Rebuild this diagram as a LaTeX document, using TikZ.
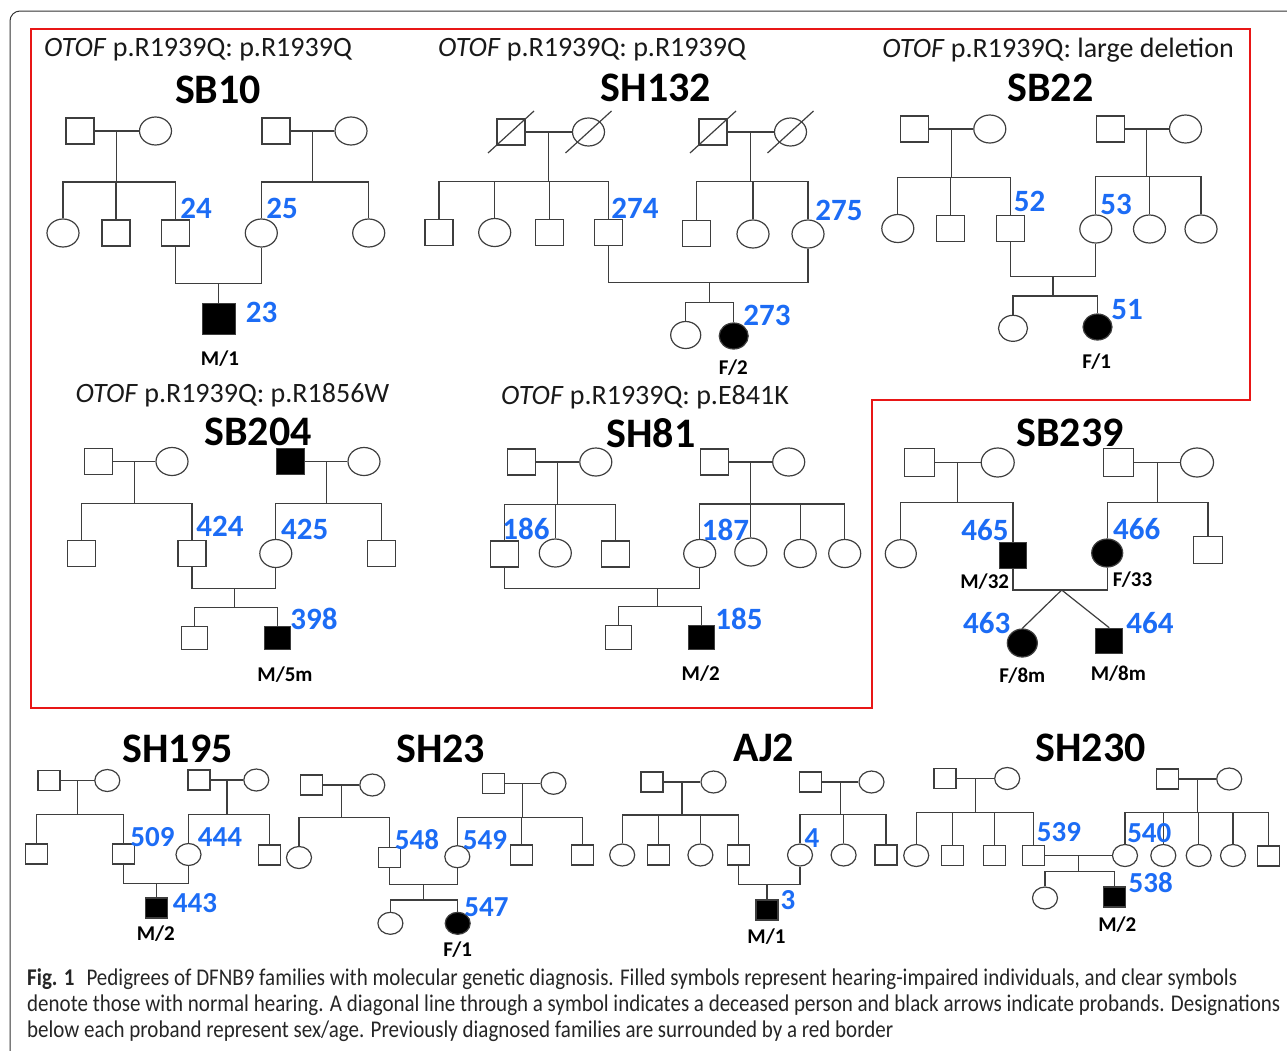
\documentclass[tikz,border=0pt]{standalone}
\usepackage{fontspec}
\setmainfont{Carlito}
\newfontfamily\capfont[FakeStretch=0.875]{Carlito}
\definecolor{idblue}{RGB}{28,108,245}
\definecolor{framered}{RGB}{232,22,22}
\definecolor{linegray}{RGB}{62,62,62}
\usetikzlibrary{shapes.geometric, calc}

\begin{document}
\begin{tikzpicture}[
    x=1pt, y=-1pt,
    every node/.append style={inner sep=0pt},
  ]

  \tikzset{
    ped/.style={draw=linegray, line width=1.2pt},
    male/.style={ped, rectangle, minimum width=28pt, minimum height=26pt},
    female/.style={ped, ellipse, minimum width=32pt, minimum height=28pt},
    smale/.style={male, minimum width=22pt, minimum height=20pt},
    sfemale/.style={female, minimum width=25pt, minimum height=22pt},
    aff/.style={fill=black},
    idnum/.style={font=\fontsize{31}{31}\selectfont\bfseries, text=idblue},
    sidnum/.style={font=\fontsize{29}{29}\selectfont\bfseries, text=idblue},
    agelabel/.style={font=\fontsize{21}{21}\selectfont\bfseries},
    famtitle/.style={font=\fontsize{42}{42}\selectfont\bfseries},
    genehead/.style={font=\fontsize{28}{28}\selectfont, text=black!90},
    captext/.style={font=\capfont\fontsize{24}{26}\selectfont, text=black!85, anchor=base west},
  }

  \useasboundingbox (0,0) rectangle (1287,1050);

  %% ---------------- FRAMES ----------------
  \begin{scope}
    \clip (0,0) rectangle (1287,1050);
    \draw[black!80, line width=1pt, rounded corners=10pt] (10,11) rectangle (1310,1070);
  \end{scope}
  \draw[framered, line width=2pt] (31,29) -- (1250,29) -- (1250,400) -- (872,400)
    -- (872,708) -- (31,708) -- cycle;

  %% ---------------- SB10 ----------------
  \node[genehead] (geneSB10) at (198,50) {\textit{OTOF} p.R1939Q: p.R1939Q};
  \node[famtitle] (titleSB10) at (218,90) {SB10};
  % generation I
  \node[male] (sb10f1) at (80,131) {};
  \node[female] (sb10m1) at (155.5,131) {};
  \node[male] (sb10f2) at (276,131) {};
  \node[female] (sb10m2) at (351,131) {};
  % generation II
  \node[female] (sb10a) at (63,233) {};
  \node[male] (sb10b) at (116,233) {};
  \node[male] (sb10c) at (175.5,233) {};
  \node[female] (sb10d) at (261.3,233) {};
  \node[female] (sb10e) at (368.7,233) {};
  % proband
  \node[male, aff, minimum width=33pt, minimum height=31pt] (sb10p) at (219,319) {};
  \node[idnum] (id24) at (196,208) {24};
  \node[idnum] (id25) at (282,208) {25};
  \node[idnum] (id23) at (261.7,312) {23};
  \node[agelabel] (age23) at (220,359) {M/1};
  % lines
  \draw[ped] (sb10f1) -- (sb10m1);
  \draw[ped] (sb10f2) -- (sb10m2);
  \coordinate (sb10u1) at ($(sb10f1.east)!.5!(sb10m1.west)$);
  \coordinate (sb10s1) at (sb10u1 |- 0,182);
  \coordinate (sb10u2) at ($(sb10f2.east)!.5!(sb10m2.west)$);
  \coordinate (sb10s2) at (sb10u2 |- 0,182);
  \draw[ped] (sb10u1) -- (sb10s1);
  \draw[ped] (sb10a.north) |- (sb10c.north |- sb10s1) -- (sb10c.north);
  \draw[ped] (sb10b.north) -- (sb10b.north |- sb10s1);
  \draw[ped] (sb10u2) -- (sb10s2);
  \draw[ped] (sb10d.north) |- (sb10e.north |- sb10s2) -- (sb10e.north);
  \coordinate (sb10c1) at (218.4,283.3);
  \draw[ped] (sb10c.south) |- (sb10d.south |- sb10c1) -- (sb10d.south);
  \draw[ped] (sb10c1) -- (sb10c1 |- sb10p.north);

  %% ---------------- SH132 ----------------
  \node[genehead] (geneSH132) at (592,50) {\textit{OTOF} p.R1939Q: p.R1939Q};
  \node[famtitle] (titleSH132) at (656,88) {SH132};
  % generation I (deceased)
  \node[male] (sh132f1) at (511,132) {};
  \node[female] (sh132m1) at (588.5,132) {};
  \node[male] (sh132f2) at (713,132) {};
  \node[female] (sh132m2) at (790.5,132) {};
  \draw[ped] ($(sh132f1)+(-23,21)$) -- ($(sh132f1)+(23,-21)$);
  \draw[ped] ($(sh132m1)+(-23,21)$) -- ($(sh132m1)+(23,-21)$);
  \draw[ped] ($(sh132f2)+(-23,21)$) -- ($(sh132f2)+(23,-21)$);
  \draw[ped] ($(sh132m2)+(-23,21)$) -- ($(sh132m2)+(23,-21)$);
  % generation II
  \node[male] (sh132a) at (439,232.5) {};
  \node[female] (sh132b) at (494.7,232.5) {};
  \node[male] (sh132c) at (549.2,232.5) {};
  \node[male] (sh132d) at (608.3,232.5) {};
  \node[male] (sh132e) at (696.3,233.5) {};
  \node[female] (sh132g) at (753,234) {};
  \node[female] (sh132h) at (808,234) {};
  % generation III
  \node[female, minimum width=30pt, minimum height=27pt] (sh132i) at (685.7,335) {};
  \node[female, aff, minimum width=29pt, minimum height=26pt] (sh132p) at (733.7,336) {};
  \node[idnum] (id274) at (635,208) {274};
  \node[idnum] (id275) at (839,210) {275};
  \node[idnum] (id273) at (767,315) {273};
  \node[agelabel] (age273) at (733.3,368) {F/2};
  % lines
  \draw[ped] (sh132f1) -- (sh132m1);
  \draw[ped] (sh132f2) -- (sh132m2);
  \coordinate (sh132u1) at ($(sh132f1.east)!.5!(sh132m1.west)$);
  \coordinate (sh132s1) at (sh132u1 |- 0,181.7);
  \coordinate (sh132u2) at ($(sh132f2.east)!.5!(sh132m2.west)$);
  \coordinate (sh132s2) at (sh132u2 |- 0,181.7);
  \draw[ped] (sh132u1) -- (sh132s1);
  \draw[ped] (sh132a.north) |- (sh132d.north |- sh132s1) -- (sh132d.north);
  \draw[ped] (sh132b.north) -- (sh132b.north |- sh132s1);
  \draw[ped] (sh132c.north) -- (sh132c.north |- sh132s1);
  \draw[ped] (sh132u2) -- (sh132s2);
  \draw[ped] (sh132e.north) |- (sh132h.north |- sh132s2) -- (sh132h.north);
  \draw[ped] (sh132g.north) -- (sh132g.north |- sh132s2);
  \coordinate (sh132c1) at (709.3,282.7);
  \coordinate (sh132s3) at (sh132c1 |- 0,302.3);
  \draw[ped] (sh132d.south) |- (sh132h.south |- sh132c1) -- (sh132h.south);
  \draw[ped] (sh132c1) -- (sh132s3);
  \draw[ped] (sh132i.north) |- (sh132p.north |- sh132s3) -- (sh132p.north);

  %% ---------------- SB22 ----------------
  \node[genehead] (geneSB22) at (1058,50) {\textit{OTOF} p.R1939Q: large deletion};
  \node[famtitle] (titleSB22) at (1050.5,88) {SB22};
  % generation I
  \node[male] (sb22f1) at (914.5,129) {};
  \node[female] (sb22m1) at (989.8,129) {};
  \node[male] (sb22f2) at (1110.2,129) {};
  \node[female] (sb22m2) at (1185.5,129) {};
  % generation II
  \node[female] (sb22a) at (897.8,228.5) {};
  \node[male] (sb22b) at (950.5,228.5) {};
  \node[male] (sb22c) at (1010.5,228.5) {};
  \node[female] (sb22d) at (1095.8,229) {};
  \node[female] (sb22e) at (1149.5,229) {};
  \node[female] (sb22g) at (1201,229) {};
  % generation III
  \node[female, minimum width=29pt, minimum height=26pt] (sb22i) at (1013,328.3) {};
  \node[female, aff, minimum width=29pt, minimum height=26pt] (sb22p) at (1097.5,327) {};
  \node[idnum] (id52) at (1029.5,201.7) {52};
  \node[idnum] (id53) at (1116,204) {53};
  \node[idnum] (id51) at (1127,310) {51};
  \node[agelabel] (age51) at (1096.7,361.7) {F/1};
  % lines
  \draw[ped] (sb22f1) -- (sb22m1);
  \draw[ped] (sb22f2) -- (sb22m2);
  \coordinate (sb22u1) at ($(sb22f1.east)!.5!(sb22m1.west)$);
  \coordinate (sb22s1) at (sb22u1 |- 0,177.7);
  \coordinate (sb22u2) at ($(sb22f2.east)!.5!(sb22m2.west)$);
  \coordinate (sb22s2) at (sb22u2 |- 0,176.7);
  \draw[ped] (sb22u1) -- (sb22s1);
  \draw[ped] (sb22a.north) |- (sb22c.north |- sb22s1) -- (sb22c.north);
  \draw[ped] (sb22b.north) -- (sb22b.north |- sb22s1);
  \draw[ped] (sb22u2) -- (sb22s2);
  \draw[ped] (sb22d.north) |- (sb22g.north |- sb22s2) -- (sb22g.north);
  \draw[ped] (sb22e.north) -- (sb22e.north |- sb22s2);
  \coordinate (sb22c1) at (1053,276.7);
  \coordinate (sb22s3) at (sb22c1 |- 0,296);
  \draw[ped] (sb22c.south) |- (sb22d.south |- sb22c1) -- (sb22d.south);
  \draw[ped] (sb22c1) -- (sb22s3);
  \draw[ped] (sb22i.north) |- (sb22p.north |- sb22s3) -- (sb22p.north);

  %% ---------------- SB204 ----------------
  \node[genehead] (geneSB204) at (232.5,395) {\textit{OTOF} p.R1939Q: p.R1856W};
  \node[famtitle] (titleSB204) at (258,432) {SB204};
  % generation I
  \node[male] (sb204f1) at (98.2,461.5) {};
  \node[female] (sb204m1) at (172,461.5) {};
  \node[male, aff] (sb204f2) at (290.3,461.5) {};
  \node[female] (sb204m2) at (364,461.5) {};
  % generation II
  \node[male] (sb204a) at (81.7,553.5) {};
  \node[male] (sb204b) at (192,553.5) {};
  \node[female] (sb204c) at (275.8,553.5) {};
  \node[male] (sb204d) at (381.2,553.5) {};
  % generation III
  \node[male, minimum width=26pt, minimum height=23pt] (sb204i) at (194.5,638) {};
  \node[male, aff, minimum width=26pt, minimum height=23pt] (sb204p) at (277.2,638) {};
  \node[idnum] (id424) at (220,526.7) {424};
  \node[idnum] (id425) at (304.7,529) {425};
  \node[idnum] (id398) at (314,619.3) {398};
  \node[agelabel] (age398) at (285,675) {M/5m};
  % lines
  \draw[ped] (sb204f1) -- (sb204m1);
  \draw[ped] (sb204f2) -- (sb204m2);
  \coordinate (sb204u1) at ($(sb204f1.east)!.5!(sb204m1.west)$);
  \coordinate (sb204s1) at (sb204u1 |- 0,503.3);
  \coordinate (sb204u2) at ($(sb204f2.east)!.5!(sb204m2.west)$);
  \coordinate (sb204s2) at (sb204u2 |- 0,503.3);
  \draw[ped] (sb204u1) -- (sb204s1);
  \draw[ped] (sb204a.north) |- (sb204b.north |- sb204s1) -- (sb204b.north);
  \draw[ped] (sb204u2) -- (sb204s2);
  \draw[ped] (sb204c.north) |- (sb204d.north |- sb204s2) -- (sb204d.north);
  \coordinate (sb204c1) at (234.3,588.3);
  \coordinate (sb204s3) at (sb204c1 |- 0,607.7);
  \draw[ped] (sb204b.south) |- (sb204c.south |- sb204c1) -- (sb204c.south);
  \draw[ped] (sb204c1) -- (sb204s3);
  \draw[ped] (sb204i.north) |- (sb204p.north |- sb204s3) -- (sb204p.north);

  %% ---------------- SH81 ----------------
  \node[genehead] (geneSH81) at (645,397) {\textit{OTOF} p.R1939Q: p.E841K};
  \node[famtitle] (titleSH81) at (651,433) {SH81};
  % generation I
  \node[male] (sh81f1) at (521.2,462) {};
  \node[female] (sh81m1) at (595.8,462) {};
  \node[male] (sh81f2) at (714.7,462) {};
  \node[female] (sh81m2) at (788.7,462) {};
  % generation II
  \node[male] (sh81a) at (504.2,554) {};
  \node[female] (sh81b) at (555.3,553) {};
  \node[male] (sh81c) at (615.8,554) {};
  \node[female] (sh81d) at (699.7,553.5) {};
  \node[female] (sh81e) at (750.8,552) {};
  \node[female] (sh81g) at (800.2,553.5) {};
  \node[female] (sh81h) at (844.7,553.5) {};
  % generation III
  \node[male, minimum width=26pt, minimum height=24pt] (sh81i) at (618.8,637.5) {};
  \node[male, aff, minimum width=26pt, minimum height=24pt] (sh81p) at (701.3,637.5) {};
  % lines
  \draw[ped] (sh81f1) -- (sh81m1);
  \draw[ped] (sh81f2) -- (sh81m2);
  \coordinate (sh81u1) at ($(sh81f1.east)!.5!(sh81m1.west)$);
  \coordinate (sh81s1) at (sh81u1 |- 0,504.3);
  \coordinate (sh81u2) at ($(sh81f2.east)!.5!(sh81m2.west)$);
  \coordinate (sh81s2) at (sh81u2 |- 0,504);
  \draw[ped] (sh81u1) -- (sh81s1);
  \draw[ped] (sh81a.north) |- (sh81c.north |- sh81s1) -- (sh81c.north);
  \draw[ped] (sh81b.north) -- (sh81b.north |- sh81s1);
  \draw[ped] (sh81u2) -- (sh81s2);
  \draw[ped] (sh81d.north) |- (sh81h.north |- sh81s2) -- (sh81h.north);
  \draw[ped] (sh81e.north) -- (sh81e.north |- sh81s2);
  \draw[ped] (sh81g.north) -- (sh81g.north |- sh81s2);
  \coordinate (sh81c1) at (657.7,588.3);
  \coordinate (sh81s3) at (sh81c1 |- 0,606.7);
  \draw[ped] (sh81a.south) |- (sh81d.south |- sh81c1) -- (sh81d.south);
  \draw[ped] (sh81c1) -- (sh81s3);
  \draw[ped] (sh81i.north) |- (sh81p.north |- sh81s3) -- (sh81p.north);
  % labels drawn over the lines
  \node[idnum] (id186) at (526,529) {186};
  \node[idnum] (id187) at (725.5,530) {187};
  \node[idnum] (id185) at (739,619.3) {185};
  \node[agelabel] (age185) at (700.7,673.3) {M/2};

  %% ---------------- SB239 ----------------
  \node[famtitle] (titleSB239) at (1070,432.7) {SB239};
  % generation I
  \node[male, minimum width=30pt, minimum height=28pt] (sb239f1) at (919.2,462.5) {};
  \node[female, minimum width=33pt, minimum height=29pt] (sb239m1) at (997.7,462.5) {};
  \node[male, minimum width=30pt, minimum height=28pt] (sb239f2) at (1118.8,462.5) {};
  \node[female, minimum width=33pt, minimum height=29pt] (sb239m2) at (1197,462.5) {};
  % generation II
  \node[female, minimum width=31pt, minimum height=28pt] (sb239a) at (900.8,553.7) {};
  \node[male, aff, minimum width=27pt, minimum height=26pt] (sb239b) at (1013,555.5) {};
  \node[female, aff, minimum width=31pt, minimum height=28pt] (sb239c) at (1107.2,553) {};
  \node[male, minimum width=29pt, minimum height=27pt] (sb239d) at (1208,550) {};
  % twins
  \node[female, aff, minimum width=30pt, minimum height=28pt] (sb239p1) at (1022.3,643) {};
  \node[male, aff, minimum width=27pt, minimum height=25pt] (sb239p2) at (1109.2,640.8) {};
  \node[idnum] (id465) at (985,530) {465};
  \node[idnum] (id466) at (1136.7,529.3) {466};
  \node[idnum] (id463) at (986.7,623.3) {463};
  \node[idnum] (id464) at (1150,623.3) {464};
  \node[agelabel] (age465) at (984.7,581.7) {M/32};
  \node[agelabel] (age466) at (1132.5,580) {F/33};
  \node[agelabel] (age463) at (1022.3,676) {F/8m};
  \node[agelabel] (age464) at (1118.3,673.3) {M/8m};
  % lines
  \draw[ped] (sb239f1) -- (sb239m1);
  \draw[ped] (sb239f2) -- (sb239m2);
  \coordinate (sb239u1) at ($(sb239f1.east)!.5!(sb239m1.west)$);
  \coordinate (sb239s1) at (sb239u1 |- 0,502.7);
  \coordinate (sb239u2) at ($(sb239f2.east)!.5!(sb239m2.west)$);
  \coordinate (sb239s2) at (sb239u2 |- 0,502.3);
  \draw[ped] (sb239u1) -- (sb239s1);
  \draw[ped] (sb239a.north) |- (sb239b.north |- sb239s1) -- (sb239b.north);
  \draw[ped] (sb239u2) -- (sb239s2);
  \draw[ped] (sb239c.north) |- (sb239d.north |- sb239s2) -- (sb239d.north);
  \coordinate (sb239t) at (1061.7,590);
  \draw[ped] (sb239b.south) |- (sb239c.south |- sb239t) -- (sb239c.south);
  \draw[ped] (sb239t) -- (sb239p1.north);
  \draw[ped] (sb239t) -- (sb239p2.north);

  %% ---------------- SH195 ----------------
  \node[famtitle] (titleSH195) at (177.5,749) {SH195};
  \node[smale] (sh195f1) at (49,780.5) {};
  \node[sfemale] (sh195m1) at (107.3,780.5) {};
  \node[smale] (sh195f2) at (199,780) {};
  \node[sfemale] (sh195m2) at (256.3,780) {};
  \node[smale] (sh195a) at (36.2,854) {};
  \node[smale] (sh195b) at (123.7,854) {};
  \node[sfemale] (sh195c) at (188.5,854.5) {};
  \node[smale] (sh195d) at (269.6,855) {};
  \node[smale, aff] (sh195p) at (156.2,908) {};
  \node[sidnum] (id509) at (152.5,836.7) {509};
  \node[sidnum] (id444) at (220,836.7) {444};
  \node[sidnum] (id443) at (195,903.3) {443};
  \node[agelabel] (age443) at (155.8,933.3) {M/2};
  \draw[ped] (sh195f1) -- (sh195m1);
  \draw[ped] (sh195f2) -- (sh195m2);
  \coordinate (sh195u1) at ($(sh195f1.east)!.5!(sh195m1.west)$);
  \coordinate (sh195s1) at (sh195u1 |- 0,814.3);
  \coordinate (sh195u2) at ($(sh195f2.east)!.5!(sh195m2.west)$);
  \coordinate (sh195s2) at (sh195u2 |- 0,814.3);
  \draw[ped] (sh195u1) -- (sh195s1);
  \draw[ped] (sh195a.north) |- (sh195b.north |- sh195s1) -- (sh195b.north);
  \draw[ped] (sh195u2) -- (sh195s2);
  \draw[ped] (sh195c.north) |- (sh195d.north |- sh195s2) -- (sh195d.north);
  \coordinate (sh195c1) at (156.1,883.3);
  \draw[ped] (sh195b.south) |- (sh195c.south |- sh195c1) -- (sh195c.south);
  \draw[ped] (sh195c1) -- (sh195c1 |- sh195p.north);

  %% ---------------- SH23 ----------------
  \node[famtitle] (titleSH23) at (440.7,749) {SH23};
  \node[smale] (sh23f1) at (311.7,785) {};
  \node[sfemale] (sh23m1) at (372.3,785) {};
  \node[smale] (sh23f2) at (493.3,783.3) {};
  \node[sfemale] (sh23m2) at (553.5,783.3) {};
  \node[sfemale] (sh23a) at (299,857.5) {};
  \node[smale] (sh23b) at (389.4,857.5) {};
  \node[sfemale] (sh23c) at (457.3,856.7) {};
  \node[smale] (sh23d) at (521.5,855) {};
  \node[smale] (sh23e) at (582.3,855) {};
  \node[sfemale] (sh23i) at (390.4,923.3) {};
  \node[sfemale, aff] (sh23p) at (457.7,923.3) {};
  \node[sidnum] (id548) at (417,840) {548};
  \node[sidnum] (id549) at (485,840) {549};
  \node[sidnum] (id547) at (486.5,906.7) {547};
  \node[agelabel] (age547) at (457.7,950) {F/1};
  \draw[ped] (sh23f1) -- (sh23m1);
  \draw[ped] (sh23f2) -- (sh23m2);
  \coordinate (sh23u1) at ($(sh23f1.east)!.5!(sh23m1.west)$);
  \coordinate (sh23s1) at (sh23u1 |- 0,817.3);
  \coordinate (sh23u2) at ($(sh23f2.east)!.5!(sh23m2.west)$);
  \coordinate (sh23s2) at (sh23u2 |- 0,817.3);
  \draw[ped] (sh23u1) -- (sh23s1);
  \draw[ped] (sh23a.north) |- (sh23b.north |- sh23s1) -- (sh23b.north);
  \draw[ped] (sh23u2) -- (sh23s2);
  \draw[ped] (sh23c.north) |- (sh23e.north |- sh23s2) -- (sh23e.north);
  \draw[ped] (sh23d.north) -- (sh23d.north |- sh23s2);
  \coordinate (sh23c1) at (423.4,884.3);
  \coordinate (sh23s3) at (sh23c1 |- 0,900);
  \draw[ped] (sh23b.south) |- (sh23c.south |- sh23c1) -- (sh23c.south);
  \draw[ped] (sh23c1) -- (sh23s3);
  \draw[ped] (sh23i.north) |- (sh23p.north |- sh23s3) -- (sh23p.north);

  %% ---------------- AJ2 ----------------
  \node[famtitle] (titleAJ2) at (763.6,748) {AJ2};
  \node[smale] (aj2f1) at (652,782) {};
  \node[sfemale] (aj2m1) at (713.5,782) {};
  \node[smale] (aj2f2) at (810.7,782) {};
  \node[sfemale] (aj2m2) at (871.5,782) {};
  \node[sfemale] (aj2a) at (622.2,855) {};
  \node[smale] (aj2b) at (658.4,855) {};
  \node[sfemale] (aj2c) at (700.4,855) {};
  \node[smale] (aj2d) at (738.3,855) {};
  \node[sfemale] (aj2e) at (800,855) {};
  \node[sfemale] (aj2g) at (843.6,855) {};
  \node[smale] (aj2h) at (886,855) {};
  \node[smale, aff] (aj2p) at (767,910) {};
  \node[sidnum] (id4) at (812,838.3) {4};
  \node[sidnum] (id3) at (788,900) {3};
  \node[agelabel] (age3) at (766.5,936.7) {M/1};
  \draw[ped] (aj2f1) -- (aj2m1);
  \draw[ped] (aj2f2) -- (aj2m2);
  \coordinate (aj2u1) at ($(aj2f1.east)!.5!(aj2m1.west)$);
  \coordinate (aj2s1) at (aj2u1 |- 0,815);
  \coordinate (aj2u2) at ($(aj2f2.east)!.5!(aj2m2.west)$);
  \coordinate (aj2s2) at (aj2u2 |- 0,814.3);
  \draw[ped] (aj2u1) -- (aj2s1);
  \draw[ped] (aj2a.north) |- (aj2d.north |- aj2s1) -- (aj2d.north);
  \draw[ped] (aj2b.north) -- (aj2b.north |- aj2s1);
  \draw[ped] (aj2c.north) -- (aj2c.north |- aj2s1);
  \draw[ped] (aj2u2) -- (aj2s2);
  \draw[ped] (aj2e.north) |- (aj2h.north |- aj2s2) -- (aj2h.north);
  \draw[ped] (aj2g.north) -- (aj2g.north |- aj2s2);
  \coordinate (aj2c1) at (767,884.3);
  \draw[ped] (aj2d.south) |- (aj2e.south |- aj2c1) -- (aj2e.south);
  \draw[ped] (aj2c1) -- (aj2c1 |- aj2p.north);

  %% ---------------- SH230 ----------------
  \node[famtitle] (titleSH230) at (1090.5,748) {SH230};
  \node[smale] (sh230f1) at (945,778.5) {};
  \node[sfemale] (sh230m1) at (1007.2,778.5) {};
  \node[smale] (sh230f2) at (1167.5,779) {};
  \node[sfemale] (sh230m2) at (1229.2,779) {};
  \node[sfemale] (sh230a) at (916.2,855.5) {};
  \node[smale] (sh230b) at (952.8,855.5) {};
  \node[smale] (sh230c) at (994.8,855.5) {};
  \node[smale] (sh230d) at (1033.7,855.5) {};
  \node[sfemale] (sh230e) at (1125,855.5) {};
  \node[sfemale] (sh230g) at (1163.3,855.5) {};
  \node[sfemale] (sh230h) at (1198.7,855.5) {};
  \node[sfemale] (sh230i) at (1233,855.5) {};
  \node[smale] (sh230j) at (1268.8,856) {};
  \node[sfemale] (sh230k) at (1045,898) {};
  \node[smale, aff] (sh230p) at (1114.2,897) {};
  \draw[ped] (sh230f1) -- (sh230m1);
  \draw[ped] (sh230f2) -- (sh230m2);
  \coordinate (sh230u1) at ($(sh230f1.east)!.5!(sh230m1.west)$);
  \coordinate (sh230s1) at (sh230u1 |- 0,812.7);
  \coordinate (sh230u2) at ($(sh230f2.east)!.5!(sh230m2.west)$);
  \coordinate (sh230s2) at (sh230u2 |- 0,812.7);
  \draw[ped] (sh230u1) -- (sh230s1);
  \draw[ped] (sh230a.north) |- (sh230d.north |- sh230s1) -- (sh230d.north);
  \draw[ped] (sh230b.north) -- (sh230b.north |- sh230s1);
  \draw[ped] (sh230c.north) -- (sh230c.north |- sh230s1);
  \draw[ped] (sh230u2) -- (sh230s2);
  \draw[ped] (sh230e.north) |- (sh230j.north |- sh230s2) -- (sh230j.north);
  \draw[ped] (sh230g.north) -- (sh230g.north |- sh230s2);
  \draw[ped] (sh230h.north) -- (sh230h.north |- sh230s2);
  \draw[ped] (sh230i.north) -- (sh230i.north |- sh230s2);
  \draw[ped] (sh230d) -- (sh230e);
  \coordinate (sh230c1) at ($(sh230d.east)!.5!(sh230e.west)$);
  \coordinate (sh230s3) at (sh230c1 |- 0,871.7);
  \draw[ped] (sh230c1) -- (sh230s3);
  \draw[ped] (sh230k.north) |- (sh230p.north |- sh230s3) -- (sh230p.north);
  \node[sidnum] (id539) at (1059,831.7) {539};
  \node[sidnum] (id540) at (1149.3,832.7) {540};
  \node[sidnum] (id538) at (1150.7,882.7) {538};
  \node[agelabel] (age538) at (1117.3,925) {M/2};

  %% ---------------- CAPTION ----------------
  \node[captext] (cap1) at (27,985) {\textbf{Fig. 1}\enspace Pedigrees of DFNB9 families with molecular genetic diagnosis. Filled symbols represent hearing-impaired individuals, and clear symbols};
  \node[captext] (cap2) at (27,1011) {denote those with normal hearing. A diagonal line through a symbol indicates a deceased person and black arrows indicate probands. Designations};
  \node[captext] (cap3) at (27,1037) {below each proband represent sex/age. Previously diagnosed families are surrounded by a red border};

\end{tikzpicture}
\end{document}
